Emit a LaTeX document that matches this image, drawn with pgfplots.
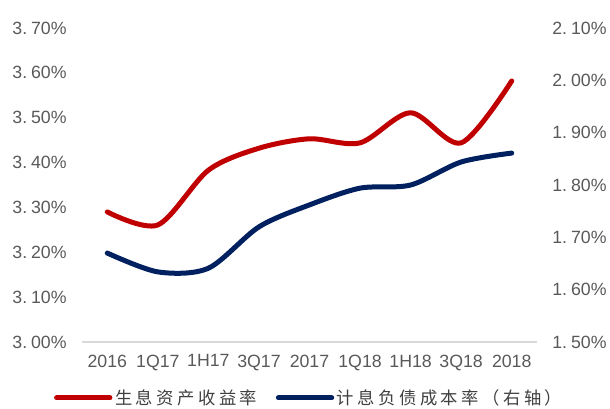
\documentclass[border=0pt]{standalone}
\usepackage{pgfplots}
\pgfplotsset{compat=1.18}
\usepackage{fontspec}
\setmainfont{Liberation Sans}
\newfontfamily\cjk[LetterSpace=20]{Noto Sans CJK SC}
\definecolor{cred}{RGB}{192,0,0}
\definecolor{cblue}{RGB}{0,32,96}
\definecolor{tgray}{RGB}{89,89,89}
\definecolor{lgray}{RGB}{64,64,64}
\definecolor{agray}{RGB}{217,217,217}
\newcommand{\dsp}{\hspace{0.22em}}
\begin{document}
\begin{tikzpicture}
\path[use as bounding box] (-61.5pt,-49.5pt) rectangle (396pt,256.5pt);
\begin{axis}[
  at={(0,0)}, anchor=south west, scale only axis,
  width=341.25pt, height=235.5pt,
  xmin=-0.5, xmax=8.5, ymin=3.0, ymax=3.7,
  xtick={0,1,2,3,4,5,6,7,8},
  xticklabels={2016,1Q17,1H17,3Q17,2017,1Q18,1H18,3Q18,2018},
  ytick={3.0,3.1,3.2,3.3,3.4,3.5,3.6,3.7},
  yticklabels={3.\dsp00\%,3.\dsp10\%,3.\dsp20\%,3.\dsp30\%,3.\dsp40\%,3.\dsp50\%,3.\dsp60\%,3.\dsp70\%},
  axis y line*=left, axis x line*=bottom,
  y axis line style={draw=none},
  x axis line style={agray, line width=1pt, -},
  major tick length=0pt,
  tick label style={font=\fontsize{13.3}{14}\selectfont, text=tgray},
  yticklabel style={xshift=-8pt},
  xticklabel style={yshift=-6pt},
  legend style={at={(0.5,-0.178)}, anchor=center, draw=none, fill=none,
    legend columns=2, font=\cjk\fontsize{13}{14}\selectfont, text=lgray,
    /tikz/every even column/.append style={column sep=12pt}},
  legend image code/.code={\draw[#1] (0pt,0pt) -- (40pt,0pt);},
  clip=false,
]
\addplot[cred, line width=3.75pt, smooth, tension=0.5, line cap=round] coordinates {
  (0,3.290) (1,3.261) (2,3.383) (3,3.432) (4,3.453) (5,3.444) (6,3.511) (7,3.444) (8,3.582)};
\addlegendentry{生息资产收益率}
\addlegendimage{cblue, line width=3.75pt, line cap=round}
\addlegendentry{计息负债成本率（右轴）}
\end{axis}
\begin{axis}[
  at={(0,0)}, anchor=south west, scale only axis,
  width=341.25pt, height=235.5pt,
  xmin=-0.5, xmax=8.5, ymin=1.5, ymax=2.1,
  axis x line=none, axis y line*=right,
  y axis line style={draw=none},
  major tick length=0pt,
  ytick={1.5,1.6,1.7,1.8,1.9,2.0,2.1},
  yticklabels={1.\dsp50\%,1.\dsp60\%,1.\dsp70\%,1.\dsp80\%,1.\dsp90\%,2.\dsp00\%,2.\dsp10\%},
  tick label style={font=\fontsize{13.3}{14}\selectfont, text=tgray},
  yticklabel style={xshift=8pt},
  clip=false,
]
\addplot[cblue, line width=3.75pt, smooth, tension=0.5, line cap=round] coordinates {
  (0,1.670) (1,1.634) (2,1.641) (3,1.720) (4,1.762) (5,1.794) (6,1.800) (7,1.844) (8,1.861)};
\end{axis}
\end{tikzpicture}
\end{document}
